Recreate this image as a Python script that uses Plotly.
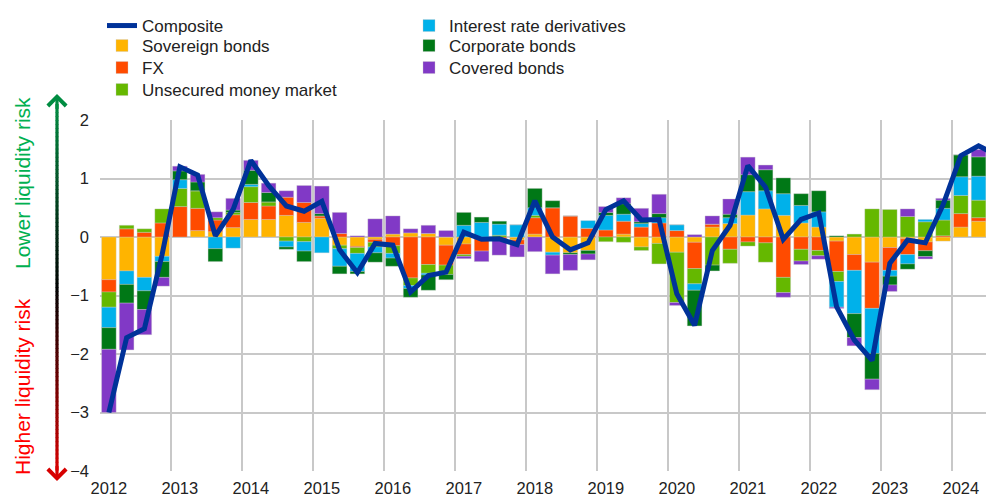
import plotly.graph_objects as go

# ---------------- data ----------------
quarters = [f"{y} Q{q}" for y in range(2012, 2025) for q in range(1, 5)][:51]

sovereign = [-0.73, -0.58, -0.69, -0.33, 0.00, 0.11, 0.09, 0.16, 0.30, 0.30,
             0.37, 0.25, 0.32, -0.14, -0.16, -0.04, 0.05, 0.07, 0.06, -0.14,
             -0.12, -0.02, 0.00, -0.05, 0.05, -0.26, -0.27, -0.23, 0.00, 0.05,
             -0.17, -0.11, -0.26, -0.09, 0.17, 0.23, 0.375, 0.48, 0.37, 0.24,
             0.17, -0.07, -0.30, -0.43, -0.18, -0.03, -0.085, -0.07, 0.17, 0.27,
             0.16]
fx = [-0.21, 0.14, 0.08, 0.24, 0.52, 0.38, 0.20, 0.22, 0.29, 0.23,
      0.31, 0.34, 0.04, 0.06, -0.02, -0.05, -0.15, -0.70, -0.47, -0.34,
      -0.18, -0.22, -0.04, -0.08, 0.28, 0.50, 0.36, 0.15, 0.12, 0.22,
      0.17, 0.24, 0.11, -0.45, 0.05, -0.21, -0.085, -0.10, -0.69, -0.21,
      -0.23, -0.52, -0.27, -0.79, -0.39, -0.27, -0.15, 0.02, 0.23, 0.06,
      0.35]
unsecured = [-0.26, 0.06, 0.06, 0.24, 0.31, 0.30, 0.04, 0.04, 0.27, 0.07,
             -0.07, -0.08, 0.00, -0.06, -0.10, -0.08, -0.13, -0.13, -0.15, -0.16,
             -0.03, 0.00, 0.03, 0.00, 0.04, 0.00, 0.00, 0.00, -0.08, -0.09,
             -0.06, -0.35, -0.86, -0.26, -0.48, -0.24, -0.07, -0.33, -0.26, -0.20,
             -0.09, -0.17, 0.05, 0.48, 0.47, 0.35, 0.26, 0.27, 0.31, 0.30,
             0.44]
ird = [-0.35, -0.23, -0.23, -0.09, 0.15, 0.00, -0.20, -0.19, 0.04, 0.00,
       -0.10, -0.16, -0.27, -0.30, -0.31, -0.10, -0.08, -0.05, -0.03, 0.00,
       0.20, 0.25, 0.19, 0.21, 0.13, -0.05, 0.00, 0.13, 0.25, 0.12,
       0.06, 0.09, 0.10, -0.11, 0.00, 0.10, 0.40, 0.31, 0.37, 0.30,
       0.26, -0.44, -0.74, -0.77, -0.10, -0.16, 0.04, 0.20, 0.32, 0.41,
       0.38]
corporate = [-0.37, -0.32, -0.32, -0.27, 0.15, 0.15, -0.22, 0.04, 0.24, 0.16,
             -0.04, -0.18, 0.04, -0.13, -0.04, -0.16, -0.14, -0.15, -0.26, -0.09,
             0.22, 0.09, 0.05, 0.00, 0.33, 0.12, -0.03, -0.06, 0.05, 0.18,
             0.03, 0.07, 0.00, -0.61, -0.10, 0.06, 0.29, 0.36, 0.27, 0.20,
             0.36, 0.02, -0.41, -0.44, -0.15, -0.09, -0.10, 0.14, 0.375, 0.33,
             0.06]
covered = [-1.08, -0.80, -0.43, -0.15, 0.08, 0.13, 0.10, 0.20, 0.17, 0.16,
           0.11, 0.29, 0.47, 0.36, 0.02, 0.31, 0.31, 0.07, 0.14, 0.11,
           -0.04, -0.18, -0.27, -0.21, -0.25, -0.32, -0.27, -0.10, 0.10, 0.10,
           0.23, 0.33, -0.05, 0.04, 0.14, 0.26, 0.30, 0.08, -0.08, -0.06,
           -0.06, -0.02, -0.14, -0.18, -0.11, 0.13, -0.04, 0.03, 0.00, 0.125,
           0.00]
composite = [-3.00, -1.72, -1.57, -0.30, 1.20, 1.06, 0.02, 0.47, 1.31, 0.88,
             0.53, 0.44, 0.61, -0.22, -0.61, -0.11, -0.14, -0.94, -0.66, -0.60,
             0.08, -0.04, -0.03, -0.13, 0.62, 0.00, -0.22, -0.10, 0.47, 0.62,
             0.29, 0.30, -0.97, -1.51, -0.23, 0.20, 1.22, 0.85, -0.04, 0.30,
             0.41, -1.19, -1.76, -2.11, -0.45, -0.05, -0.10, 0.55, 1.39, 1.56,
             1.40]

year_labels = [str(y) for y in range(2012, 2025)]

# ---------------- geometry ----------------
# The page body has an 8px margin, so figure pixels = window pixels - 8.
OFF = 8
FIG_W, FIG_H = 994 - OFF, 495 - OFF
L, T, PW, PH = 100 - OFF, 120 - OFF, 894, 351
FONT = "Arial, Liberation Sans, sans-serif"
GRID = "#c8c8c8"
TXT = "#222222"


def wx(px):  # window x -> paper x
    return (px - OFF - L) / PW


def wy(py):  # window y -> paper y
    return (T + PH - (py - OFF)) / PH


x = list(range(len(quarters)))
year_pos = [i for i, q in enumerate(quarters) if q.endswith("Q1")]

# name, values, colour, legend id, legend x (window), row centre y (window)
components = [
    ("Sovereign bonds", sovereign, "#FFB400", "legend2", 102, 45),
    ("FX", fx, "#FF4B00", "legend3", 102, 67),
    ("Unsecured money market", unsecured, "#65B800", "legend4", 102, 89),
    ("Interest rate derivatives", ird, "#00B1EA", "legend5", 409, 22),
    ("Corporate bonds", corporate, "#007816", "legend6", 409, 45),
    ("Covered bonds", covered, "#8139C6", "legend7", 409, 67),
]

fig = go.Figure()
for name, vals, col, lg, _, _ in components:
    fig.add_trace(go.Bar(
        x=x, y=vals, name=name, width=0.82,
        marker=dict(color=col, line=dict(color="rgba(200,200,200,0.7)", width=0.5)),
        legend=lg, hovertext=quarters,
    ))

fig.add_trace(go.Scatter(
    x=x, y=composite, name="Composite", mode="lines",
    line=dict(color="#003299", width=5), legend="legend",
    hovertext=quarters,
))


def legend_at(xw, yc):
    top = (yc - OFF) - 17
    return dict(
        bgcolor="rgba(0,0,0,0)", borderwidth=0, orientation="v",
        font=dict(family=FONT, size=17, color=TXT),
        xref="container", yref="container",
        x=(xw - OFF) / FIG_W, y=1 - top / FIG_H,
        xanchor="left", yanchor="top",
    )


legends = {"legend": legend_at(102, 22)}
for name, vals, col, lg, lx, ly in components:
    legends[lg] = legend_at(lx, ly)

# ---------------- left gradient arrow (decoration) ----------------
def lerp(c1, c2, t):
    return tuple(int(round(a + (b - a) * t)) for a, b in zip(c1, c2))


green_c, black_c, red_c = (0, 140, 65), (0, 0, 0), (215, 0, 0)
y_top, y_mid, y_bot = 104, 290, 470
n_seg = 90
shapes = []
ax_x = wx(57)
for k in range(n_seg):
    ya = y_top + (y_bot - y_top) * k / n_seg
    yb = y_top + (y_bot - y_top) * (k + 1) / n_seg + 0.6
    ym = (ya + yb) / 2
    if ym <= y_mid:
        c = lerp(green_c, black_c, (ym - y_top) / (y_mid - y_top))
    else:
        c = lerp(black_c, red_c, (ym - y_mid) / (y_bot - y_mid))
    shapes.append(dict(type="line", xref="paper", yref="paper",
                       x0=ax_x, x1=ax_x, y0=wy(ya), y1=wy(yb),
                       line=dict(color="rgb(%d,%d,%d)" % c, width=3.2)))

annotations = [
    dict(xref="paper", yref="paper", x=ax_x, y=wy(94), ax=0, ay=16,
         text="", showarrow=True, arrowhead=4, arrowsize=1.1, arrowwidth=3.2,
         arrowcolor="rgb(0,140,65)"),
    dict(xref="paper", yref="paper", x=ax_x, y=wy(481), ax=0, ay=-16,
         text="", showarrow=True, arrowhead=4, arrowsize=1.1, arrowwidth=3.2,
         arrowcolor="rgb(215,0,0)"),
    dict(xref="paper", yref="paper", x=wx(22), y=wy(183),
         text="Lower liquidity risk", showarrow=False, textangle=-90,
         font=dict(family=FONT, size=21, color="#00B050"),
         xanchor="center", yanchor="middle"),
    dict(xref="paper", yref="paper", x=wx(22), y=wy(387),
         text="Higher liquidity risk", showarrow=False, textangle=-90,
         font=dict(family=FONT, size=21, color="#FF0000"),
         xanchor="center", yanchor="middle"),
]

fig.update_layout(
    template="none",
    width=FIG_W, height=FIG_H,
    margin=dict(l=L, r=0, t=T, b=FIG_H - T - PH, autoexpand=False),
    paper_bgcolor="white", plot_bgcolor="white",
    barmode="relative",
    font=dict(family=FONT, size=16, color=TXT),
    showlegend=True,
    shapes=shapes,
    annotations=annotations,
    xaxis=dict(
        range=[-0.5, 49.87], tickmode="array", tickvals=year_pos, ticktext=year_labels,
        showgrid=False, zeroline=False, showline=False, ticks="",
        ticklabelstandoff=5, automargin=False,
        tickfont=dict(family=FONT, size=16.5, color=TXT),
        minor=dict(tick0=-0.5, dtick=4, showgrid=True, gridcolor=GRID, gridwidth=2, ticks=""),
    ),
    yaxis=dict(
        range=[-4, 2], tickmode="linear", tick0=0, dtick=1,
        showgrid=True, gridcolor=GRID, gridwidth=2,
        zeroline=True, zerolinecolor=GRID, zerolinewidth=2,
        showline=False, ticks="", ticklabelstandoff=10, automargin=False,
        tickfont=dict(family=FONT, size=16.5, color=TXT),
    ),
    **legends,
)

fig.write_html("out.html")
